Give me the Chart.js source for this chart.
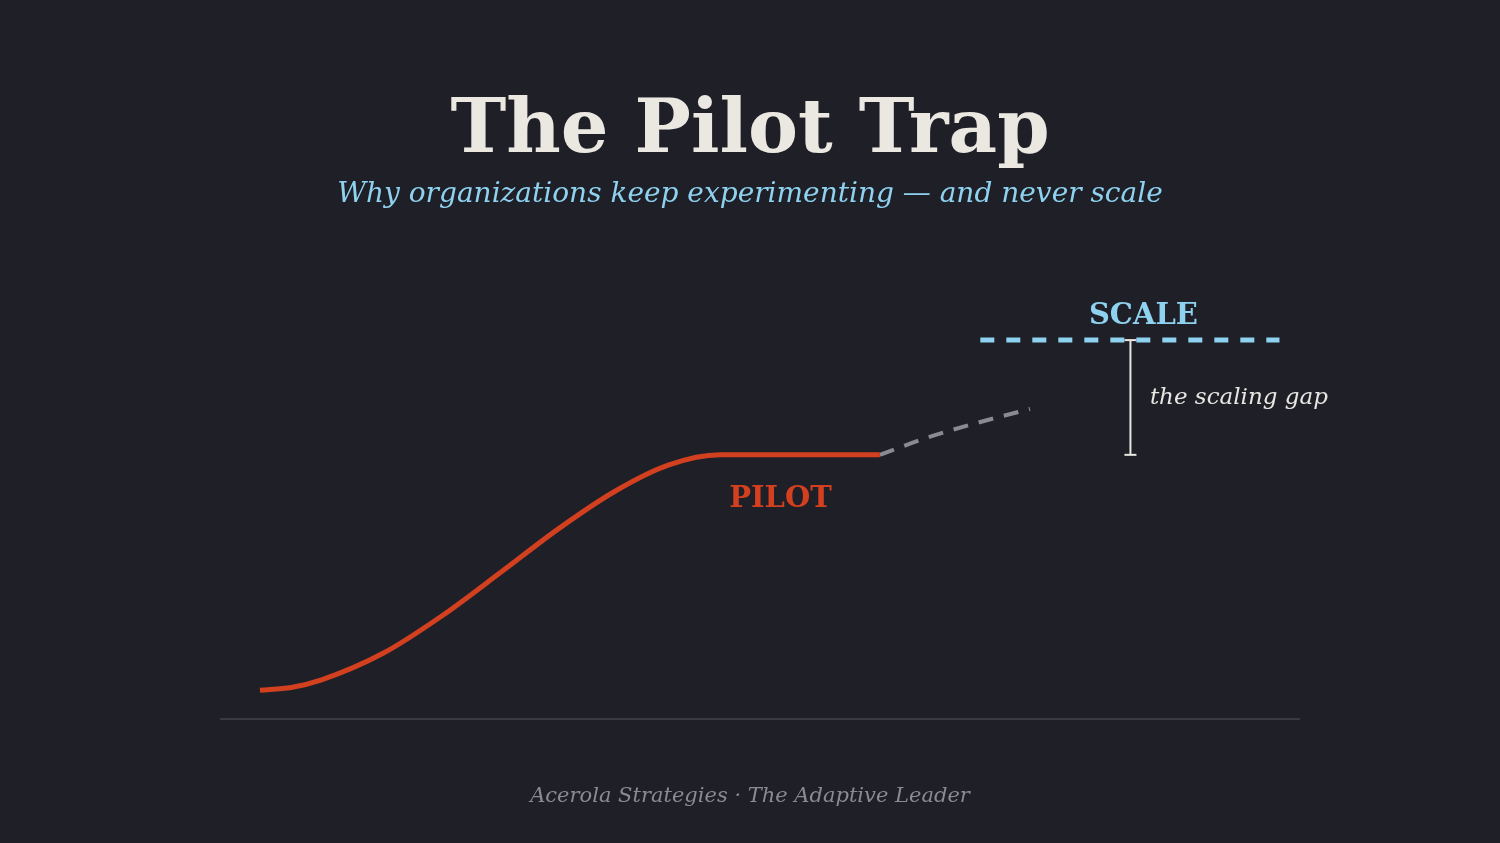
<!DOCTYPE html>
<html>
<head>
<meta charset="utf-8">
<script src="https://cdn.jsdelivr.net/npm/chart.js@4.4.1/dist/chart.umd.min.js"></script>
<style>
  html, body { margin: 0; padding: 0; background: #1f1f28; }
  #wrap { position: relative; width: 1500px; height: 843px; overflow: hidden; }
  #chart { position: absolute; left: 0; top: 0; }
  .txt { position: absolute; font-family: "DejaVu Serif", Georgia, serif; line-height: 1; white-space: nowrap; }
</style>
</head>
<body>
<div id="wrap">
  <canvas id="chart" width="1500" height="843"></canvas>
  <div class="txt" id="title">The Pilot Trap</div>
  <div class="txt" id="subtitle">Why organizations keep experimenting — and never scale</div>
  <div class="txt" id="footer">Acerola Strategies · The Adaptive Leader</div>
  <div class="txt" id="lbl-pilot">PILOT</div>
  <div class="txt" id="lbl-scale">SCALE</div>
  <div class="txt" id="lbl-gap">the scaling gap</div>
</div>
<script>
// adoption curve (time 0-100, progress 0-100)
const pilotX = [3.7, 6.6, 9.4, 15.1, 20.6, 26.0, 31.3, 36.5, 41.5, 46.3, 61.1];
const pilotY = [6.4, 7.0, 8.7, 14.6, 23.0, 32.6, 42.2, 50.5, 56.4, 58.7, 58.7];

// where it would go if it kept climbing
const hopeX = [61.1, 65.7, 70.4, 75.0];
const hopeY = [58.7, 62.7, 66.0, 68.9];

// the scale target
const scaleX = [70.4, 98.1];
const scaleLevel = 84.2;

// the gap marker
const gapX = 84.3;
const gapY = [58.7, 84.2];

// floor
const floorX = [0, 100];

const colors = {
    red: '#d2401f',
    gray: '#8a8a93',
    blue: '#8ed2ef',
    white: '#e8e6e1',
    floor: '#3a3a45'
};

const toPoints = (xs, ys) => xs.map((x, i) => ({ x: x, y: ys[i] }));

// put a text element so its baseline sits at y (DejaVu Serif, line-height 1)
function placeText(id, x, baseline, size, align) {
    const el = document.getElementById(id);
    el.style.fontSize = size + 'px';
    el.style.top = (baseline - 0.846 * size) + 'px';
    el.style.left = x + 'px';
    if (align === 'center') {
        el.style.transform = 'translateX(-50%)';
    }
}

const titleEl = document.getElementById('title');
titleEl.style.color = '#ebe7e1';
titleEl.style.fontWeight = 'bold';
placeText('title', 750, 152, 75, 'center');

const subEl = document.getElementById('subtitle');
subEl.style.color = colors.blue;
subEl.style.fontStyle = 'italic';
placeText('subtitle', 750, 203, 28, 'center');

const footEl = document.getElementById('footer');
footEl.style.color = colors.gray;
footEl.style.fontStyle = 'italic';
placeText('footer', 750, 803, 21, 'center');

// labels that follow the chart scales
const labelPlugin = {
    id: 'labels',
    afterDraw(chart) {
        const xs = chart.scales.x;
        const ys = chart.scales.y;

        const pilot = document.getElementById('lbl-pilot');
        pilot.style.color = colors.red;
        pilot.style.fontWeight = 'bold';
        placeText('lbl-pilot', xs.getPixelForValue(51.9), ys.getPixelForValue(47.1), 29, 'center');

        const scale = document.getElementById('lbl-scale');
        scale.style.color = colors.blue;
        scale.style.fontWeight = 'bold';
        placeText('lbl-scale', xs.getPixelForValue(85.5), ys.getPixelForValue(87.6), 29, 'center');

        const gap = document.getElementById('lbl-gap');
        gap.style.color = colors.white;
        gap.style.fontStyle = 'italic';
        placeText('lbl-gap', xs.getPixelForValue(86.1), ys.getPixelForValue(69.8), 23, 'left');
    }
};

const ctx = document.getElementById('chart').getContext('2d');
new Chart(ctx, {
    type: 'line',
    data: {
        datasets: [
            {
                // floor line
                data: toPoints(floorX, [0, 0]),
                borderColor: colors.floor,
                borderWidth: 2,
                pointRadius: 0,
                clip: false
            },
            {
                data: toPoints(pilotX, pilotY),
                borderColor: colors.red,
                borderWidth: 5,
                pointRadius: 0,
                cubicInterpolationMode: 'monotone',
                clip: false
            },
            {
                data: toPoints(hopeX, hopeY),
                borderColor: colors.gray,
                borderWidth: 4,
                borderDash: [15, 11],
                pointRadius: 0,
                cubicInterpolationMode: 'monotone',
                clip: false
            },
            {
                data: toPoints(scaleX, [scaleLevel, scaleLevel]),
                borderColor: colors.blue,
                borderWidth: 5,
                borderDash: [14, 12],
                pointRadius: 0,
                clip: false
            },
            {
                data: toPoints([gapX, gapX], gapY),
                borderColor: colors.white,
                borderWidth: 2,
                pointStyle: 'line',
                pointRadius: 6,
                pointBorderWidth: 2,
                pointBorderColor: colors.white,
                clip: false
            }
        ]
    },
    options: {
        responsive: false,
        animation: false,
        devicePixelRatio: 1,
        layout: {
            padding: { left: 220, right: 200, top: 269, bottom: 124 }
        },
        scales: {
            x: { type: 'linear', min: 0, max: 100, display: false },
            y: { min: 0, max: 100, display: false }
        },
        plugins: {
            legend: { display: false },
            tooltip: { enabled: false }
        }
    },
    plugins: [labelPlugin]
});
</script>
</body>
</html>
